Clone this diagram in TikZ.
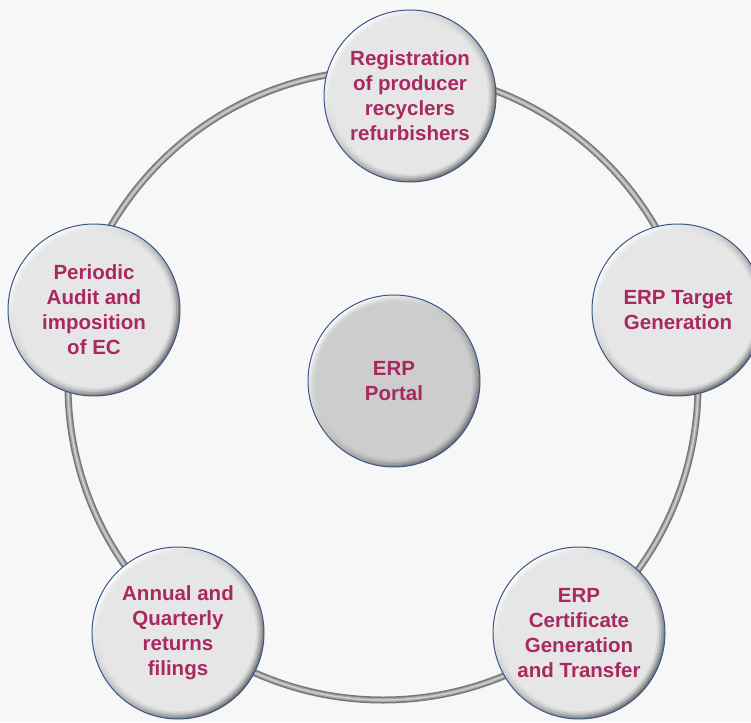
\documentclass[tikz,border=0pt]{standalone}
\usepackage{fontspec}
\setmainfont{Liberation Sans}
\definecolor{bg}{HTML}{F7F7F7}
\definecolor{txt}{HTML}{A8285F}
\definecolor{rimblue}{HTML}{3A5688}
\definecolor{discfill}{HTML}{E6E6E6}
\definecolor{hubfill}{HTML}{CDCDCD}
\definecolor{tubedark}{HTML}{787878}
\definecolor{tubemid}{HTML}{A6A6A6}
\definecolor{tubelight}{HTML}{CFCFCF}
\tikzset{
  disc/.style={circle, minimum size=172pt, inner sep=0pt, align=center,
    draw=rimblue, line width=1pt, text=txt,
    font=\bfseries\fontsize{20.5}{25}\selectfont,
    path picture={
      % bevelled rim: light top-left, dark bottom-right
      \shade[shading=axis, top color=white, bottom color=black!55, shading angle=45]
        (path picture bounding box.south west) rectangle (path picture bounding box.north east);
      \fill[#1, opacity=0.3] (path picture bounding box.center) circle (84pt);
      \fill[#1, opacity=0.45] (path picture bounding box.center) circle (82pt);
      \fill[#1, opacity=0.65] (path picture bounding box.center) circle (80pt);
      \fill[#1] (path picture bounding box.center) circle (78pt);
    }},
  disc/.default=discfill
}
\begin{document}
\begin{tikzpicture}[x=1pt,y=-1pt]
  \useasboundingbox (0,0) rectangle (751,722);
  \fill[bg] (0,0) rectangle (751,722);

  % the metal ring joining the stages
  \coordinate (hub) at (383,385);
  \draw[tubedark, line width=7pt] (hub) circle (315pt);
  \draw[tubemid, line width=4pt] (hub) circle (315pt);
  \draw[tubelight, line width=1.5pt] (hub) circle (315pt);

  % stages
  \node[disc] (reg) at (410,96) {Registration\\of producer\\recyclers\\refurbishers};
  \node[disc] (target) at (678,310) {ERP Target\\Generation};
  \node[disc] (audit) at (94,310) {Periodic\\Audit and\\imposition\\of EC};
  \node[disc] (returns) at (178,633) {Annual and\\Quarterly\\returns\\filings};
  \node[disc] (cert) at (579,633) {ERP\\Certificate\\Generation\\and Transfer};

  % centre
  \node[disc=hubfill] (portal) at (394,381) {ERP\\Portal};
\end{tikzpicture}
\end{document}
